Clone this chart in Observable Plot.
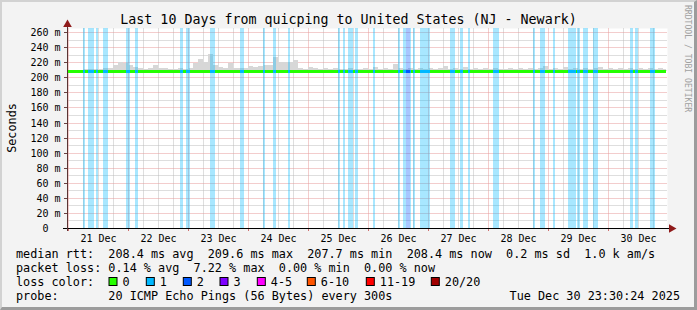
<!DOCTYPE html>
<html><head><meta charset="utf-8">
<script src="https://cdn.jsdelivr.net/npm/d3@7"></script>
<script src="https://cdn.jsdelivr.net/npm/@observablehq/plot@0.6"></script>
<style>
html,body{margin:0;padding:0;background:#f3f3f3;}
#wrap{position:relative;width:697px;height:310px;overflow:hidden;}
#bord{position:absolute;left:0;top:0;width:697px;height:310px;box-sizing:border-box;border-top:2px solid #d2d2d2;border-left:2px solid #d2d2d2;border-right:3px solid #9c9c9c;border-bottom:3px solid #9c9c9c;pointer-events:none;}
svg{display:block;}
</style></head><body><div id="wrap"><div id="bord"></div></div>
<script>
// ---- data ----
const startTime = "2025-12-20T23:30:24Z";
const endTime = "2025-12-30T23:30:24Z";
const dataEnd = "2025-12-30T23:00:00Z";
const chartTitle = "Last 10 Days from quicping to United States (NJ - Newark)";
const yTicks = [0, 20, 40, 60, 80, 100, 120, 140, 160, 180, 200, 220, 240, 260];
const yMinorTicks = [10, 30, 50, 70, 90, 110, 130, 150, 170, 190, 210, 230, 250];
const medianRtt = 208.4;
const smokeBottom = 207.6;
// smoke top (ms), 2-hour buckets from 21 Dec 00:00
const smokeTop = [
  209, 209, 210, 211, 211, 211, 211, 212, 213, 216, 221, 219,
  216, 214, 213, 211, 212, 216, 212, 212, 211, 211, 212, 211,
  213, 219, 225, 221, 231, 216, 214, 213, 219, 212, 212, 213,
  215, 214, 215, 216, 217, 227, 221, 220, 221, 223, 212, 211,
  214, 212, 211, 212, 211, 212, 211, 211, 212, 211, 211, 212,
  211, 214, 211, 212, 211, 218, 212, 211, 212, 211, 212, 211,
  212, 211, 212, 215, 211, 212, 211, 214, 211, 212, 211, 212,
  211, 212, 211, 211, 212, 211, 212, 211, 212, 211, 212, 215,
  211, 212, 211, 214, 211, 212, 211, 212, 211, 212, 214, 211,
  212, 211, 213, 211, 212, 211, 213, 211, 212, 211, 212, 211
];
const lossStart = [
  "2025-12-21T05:48", "2025-12-21T08:00", "2025-12-21T10:55", "2025-12-21T14:00", "2025-12-21T22:55",
  "2025-12-22T02:48", "2025-12-22T20:48", "2025-12-22T22:55", "2025-12-23T08:48", "2025-12-23T20:48",
  "2025-12-24T05:53", "2025-12-24T09:53", "2025-12-24T15:53", "2025-12-25T11:48", "2025-12-25T13:53",
  "2025-12-25T16:00", "2025-12-25T18:48", "2025-12-26T01:53", "2025-12-26T11:48", "2025-12-26T13:53",
  "2025-12-26T15:12", "2025-12-26T16:36", "2025-12-26T17:53", "2025-12-26T20:48", "2025-12-27T08:48",
  "2025-12-27T12:48", "2025-12-27T15:53", "2025-12-28T01:53", "2025-12-28T17:53", "2025-12-28T20:48",
  "2025-12-29T01:53", "2025-12-29T07:53", "2025-12-29T11:36", "2025-12-29T14:00", "2025-12-29T18:00",
  "2025-12-30T08:48", "2025-12-30T10:48", "2025-12-30T16:48"
];
const lossEnd = [
  "2025-12-21T06:48", "2025-12-21T10:08", "2025-12-21T11:53", "2025-12-21T15:53", "2025-12-22T00:31",
  "2025-12-22T03:53", "2025-12-22T22:00", "2025-12-23T00:36", "2025-12-23T10:48", "2025-12-23T22:07",
  "2025-12-24T06:48", "2025-12-24T10:55", "2025-12-24T16:48", "2025-12-25T12:48", "2025-12-25T14:48",
  "2025-12-25T17:53", "2025-12-25T19:48", "2025-12-26T02:48", "2025-12-26T12:48", "2025-12-26T15:12",
  "2025-12-26T16:36", "2025-12-26T17:00", "2025-12-26T18:48", "2025-12-27T00:48", "2025-12-27T10:48",
  "2025-12-27T13:53", "2025-12-27T16:48", "2025-12-28T04:07", "2025-12-28T18:48", "2025-12-28T22:48",
  "2025-12-29T02:48", "2025-12-29T11:12", "2025-12-29T12:48", "2025-12-29T15:53", "2025-12-29T20:00",
  "2025-12-30T09:53", "2025-12-30T11:53", "2025-12-30T18:48"
];
const lossLevel = [
  1,1,1,1,1, 1,1,1,1,1, 1,1,1,1,1, 1,1,1,1,1, 2,1,1,1,1, 1,1,1,1,1, 1,1,1,1,1, 1,1,1
];
const lossLabels = ["0", "1", "2", "3", "4-5", "6-10", "11-19", "20/20"];
const lossColors = ["#26ff00", "#00b8ff", "#0059ff", "#7e00ff", "#ff00ff", "#ff5500", "#ff0000", "#a10000"];
const statsLine1 = "median rtt:  208.4 ms avg  209.6 ms max  207.7 ms min  208.4 ms now  0.2 ms sd  1.0 k am/s";
const statsLine2 = "packet loss: 0.14 % avg  7.22 % max  0.00 % min  0.00 % now";
const lossLine = "loss color:";
const probeLine = "probe:       20 ICMP Echo Pings (56 Bytes) every 300s";
const dateLine = "Tue Dec 30 23:30:24 2025";
const yLabel = "Seconds";
const credit = "RRDTOOL / TOBI OETIKER";

// ---- build ----
const x0 = new Date(startTime), x1 = new Date(endTime), xe = new Date(dataEnd);
const midnights = d3.utcDay.range(new Date("2025-12-21T00:00:00Z"), new Date("2025-12-31T00:00:00Z"));
const noons = midnights.map(d => d3.utcHour.offset(d, 12));
const sixHours = d3.utcHour.every(6).range(x0, x1).filter(d => d.getUTCHours() !== 0);
const smoke = smokeTop.map((v, i) => ({t: i === 0 ? x0 : new Date(Date.UTC(2025, 11, 21, 2 * i)), top: v}));
smoke.push({t: xe, top: smokeTop[smokeTop.length - 1]});
const losses = lossStart.map((s, i) => ({s: new Date(s + ":00Z"), e: new Date(lossEnd[i] + ":00Z"), lvl: lossLevel[i]}));

const mono = "DejaVu Sans Mono";
const arrowColor = "#8f1a1a";
const dots = {strokeOpacity: 1, strokeWidth: 1, strokeDasharray: "1,1", strokeDashoffset: 0.5};
const chart = Plot.plot({
  width: 697, height: 310,
  marginLeft: 67, marginRight: 30, marginTop: 28, marginBottom: 82,
  style: {background: "#f3f3f3", fontFamily: mono, fontSize: "10px", color: "#000"},
  x: {type: "utc", domain: [x0, x1], axis: null, label: null, round: true},
  y: {domain: [0, 265.5], axis: null, label: null, round: true},
  color: {type: "identity"},
  marks: [
    Plot.frame({fill: "#ffffff", stroke: null}),
    Plot.gridY(yMinorTicks, {stroke: "#bdbdbd", ...dots}),
    Plot.gridX(sixHours, {stroke: "#bdbdbd", ...dots}),
    Plot.gridY(yTicks.filter(d => d > 0), {stroke: "#e69a9a", ...dots}),
    Plot.gridX(midnights, {stroke: "#e69a9a", ...dots}),
    Plot.areaY(smoke, {x: "t", y1: () => smokeBottom, y2: "top", curve: "step-after", fill: "#d7d7d7"}),
    Plot.rect(losses, {x1: "s", x2: "e", fill: d => lossColors[d.lvl], fillOpacity: 0.34}),
    Plot.ruleY([medianRtt], {x1: () => x0, x2: () => xe, stroke: lossColors[0], strokeWidth: 3}),
    Plot.ruleY(losses, {y: () => medianRtt, x1: "s", x2: "e", stroke: d => lossColors[d.lvl], strokeWidth: 3}),
    Plot.axisY(yTicks, {tickSize: 3, tickPadding: 4, stroke: "#6a4040", fill: "#000", fontSize: 10,
      tickFormat: d => d === 0 ? "0\u00a0\u00a0" : d + " m"}),
    Plot.axisX(noons, {tickSize: 0, tickPadding: 6, fill: "#000", fontSize: 10, tickFormat: d3.utcFormat("%d %b")}),
    Plot.axisX(midnights, {tickSize: 3, stroke: "#d07070", tickFormat: () => ""}),
    Plot.ruleY([0], {stroke: "#000", insetLeft: -4, insetRight: -3}),
    Plot.ruleX([x0], {stroke: "#5a3434", insetTop: -4, insetBottom: -3}),
    Plot.dot([x1], {x: d => d, y: () => 0, symbol: "triangle", r: 3.2, fill: arrowColor, stroke: null, rotate: 90, dx: 4}),
    Plot.dot([x0], {x: d => d, frameAnchor: "top", symbol: "triangle", r: 3.2, fill: arrowColor, stroke: null, dy: -4})
  ]
});
document.getElementById("wrap").insertBefore(chart, document.getElementById("bord"));

// ---- titles and legend text ----
const svg = d3.select(chart);
const g = svg.append("g").attr("font-family", mono).attr("fill", "#000").attr("text-anchor", "start").style("white-space", "pre");
g.append("text").attr("x", 348.5).attr("y", 24).attr("text-anchor", "middle").attr("font-size", 13.3).text(chartTitle);
g.append("text").attr("transform", "translate(15.8,128) rotate(-90)").attr("text-anchor", "middle").attr("font-size", 11.8).text(yLabel);
g.append("text").attr("transform", "translate(684.5,5) rotate(90)").attr("font-size", 8.1).attr("fill", "#a0a0a0").text(credit);
const legendFont = 11.8;
g.append("text").attr("x", 16).attr("y", 258).attr("font-size", legendFont).text(statsLine1);
g.append("text").attr("x", 16).attr("y", 272).attr("font-size", legendFont).text(statsLine2);
g.append("text").attr("x", 16).attr("y", 286).attr("font-size", legendFont).text(lossLine);
g.append("text").attr("x", 16).attr("y", 300).attr("font-size", legendFont).text(probeLine);
g.append("text").attr("x", 680).attr("y", 300).attr("text-anchor", "end").attr("font-size", legendFont).text(dateLine);
const legendBoxX = [108.5, 145.8, 182.8, 219.5, 256.8, 306.8, 365.8, 430.8];
lossLabels.forEach((lab, i) => {
  g.append("rect").attr("x", legendBoxX[i] + 0.5).attr("y", 277.5).attr("width", 8).attr("height", 8)
    .attr("fill", lossColors[i]).attr("stroke", "#000").attr("stroke-width", 1);
  g.append("text").attr("x", legendBoxX[i] + 14).attr("y", 286).attr("font-size", legendFont).text(lab);
});
</script></body></html>
